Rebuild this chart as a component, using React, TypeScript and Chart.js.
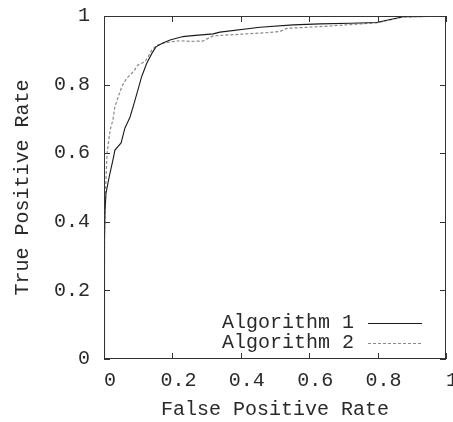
import React, { useEffect, useRef } from "react";
import { Chart, registerables } from "chart.js";

Chart.register(...registerables);

const seriesLabels = ["Algorithm 1", "Algorithm 2"];

const alg1Fpr = [0, 0.001, 0.002, 0.003, 0.006, 0.015, 0.026, 0.032, 0.05, 0.061, 0.076, 0.088, 0.099, 0.11, 0.125, 0.14, 0.152, 0.169, 0.193, 0.231, 0.251, 0.319, 0.339, 0.456, 0.553, 0.632, 0.72, 0.797, 0.874, 0.95, 1];
const alg1Tpr = [0, 0.2, 0.35, 0.434, 0.484, 0.53, 0.58, 0.609, 0.63, 0.673, 0.705, 0.745, 0.784, 0.823, 0.862, 0.891, 0.91, 0.92, 0.93, 0.94, 0.942, 0.948, 0.953, 0.967, 0.974, 0.977, 0.979, 0.981, 0.998, 0.999, 1];

const alg2Fpr = [0, 0.001, 0.002, 0.003, 0.006, 0.009, 0.013, 0.018, 0.026, 0.032, 0.042, 0.052, 0.066, 0.086, 0.099, 0.12, 0.129, 0.14, 0.155, 0.184, 0.222, 0.251, 0.289, 0.319, 0.417, 0.485, 0.515, 0.534, 0.632, 0.72, 0.797, 0.874, 0.95, 1];
const alg2Tpr = [0, 0.25, 0.4, 0.455, 0.53, 0.6, 0.63, 0.668, 0.697, 0.736, 0.765, 0.794, 0.818, 0.838, 0.857, 0.867, 0.881, 0.901, 0.915, 0.923, 0.928, 0.926, 0.927, 0.942, 0.948, 0.952, 0.955, 0.964, 0.969, 0.975, 0.98, 0.997, 0.999, 1];

const xTickLabels = ["0", "0.2", "0.4", "0.6", "0.8", "1"];
const yTickLabels = ["0", "0.2", "0.4", "0.6", "0.8", "1"];
const tickValues = [0, 0.2, 0.4, 0.6, 0.8, 1];

const FONT = "'Liberation Mono', 'DejaVu Sans Mono', monospace";
const TEXT = "#2a2a2a";

const framePlugin = {
  id: "gnuFrame",
  afterDatasetsDraw(chart: any) {
    const { ctx, chartArea: a, scales } = chart;
    ctx.save();
    ctx.strokeStyle = "#333";
    ctx.lineWidth = 1;
    ctx.strokeRect(a.left + 0.5, a.top + 0.5, a.right - a.left - 1, a.bottom - a.top - 1);
    const L = 6;
    ctx.beginPath();
    for (const v of tickValues) {
      const px = Math.round(scales.x.getPixelForValue(v)) + 0.5;
      ctx.moveTo(px, a.bottom);
      ctx.lineTo(px, a.bottom - L);
      ctx.moveTo(px, a.top);
      ctx.lineTo(px, a.top + L);
      const py = Math.round(scales.y.getPixelForValue(v)) + 0.5;
      ctx.moveTo(a.left, py);
      ctx.lineTo(a.left + L, py);
      ctx.moveTo(a.right, py);
      ctx.lineTo(a.right - L, py);
    }
    ctx.stroke();

    // legend (gnuplot style: text right-aligned, sample to the right)
    ctx.font = `20px ${FONT}`;
    ctx.textAlign = "right";
    ctx.textBaseline = "middle";
    const textRight = a.right - 92;
    const sampleL = a.right - 78;
    const sampleR = a.right - 24;
    const rows = [a.bottom - 36, a.bottom - 16];
    chart.data.datasets.forEach((ds: any, i: number) => {
      const y = rows[i];
      ctx.fillStyle = TEXT;
      ctx.fillText(ds.label, textRight, y);
      ctx.beginPath();
      ctx.strokeStyle = ds.borderColor;
      ctx.lineWidth = ds.borderWidth;
      ctx.setLineDash(ds.borderDash || []);
      ctx.moveTo(sampleL, y + 0.5);
      ctx.lineTo(sampleR, y + 0.5);
      ctx.stroke();
      ctx.setLineDash([]);
    });
    ctx.restore();
  },
};

const zeroPad = (s: any) => {
  s.paddingTop = 0;
  s.paddingBottom = 0;
  s.paddingLeft = 0;
  s.paddingRight = 0;
};

export default function App() {
  const ref = useRef<HTMLCanvasElement | null>(null);
  useEffect(() => {
    if (!ref.current) return;
    const chart = new Chart(ref.current, {
      type: "scatter",
      data: {
        datasets: [
          {
            label: seriesLabels[0],
            data: alg1Fpr.map((x, i) => ({ x, y: alg1Tpr[i] })),
            showLine: true,
            borderColor: "#1a1a1a",
            borderWidth: 1.1,
            pointRadius: 0,
            tension: 0,
          },
          {
            label: seriesLabels[1],
            data: alg2Fpr.map((x, i) => ({ x, y: alg2Tpr[i] })),
            showLine: true,
            borderColor: "#8a8a8a",
            borderWidth: 1.2,
            borderDash: [3, 2],
            pointRadius: 0,
            tension: 0,
          },
        ],
      },
      options: {
        animation: false,
        responsive: false,
        layout: { padding: { top: 16, right: 7, left: 0, bottom: 0 } },
        plugins: { legend: { display: false }, tooltip: { enabled: false } },
        scales: {
          x: {
            type: "linear",
            min: 0,
            max: 1,
            grid: { display: false, drawTicks: false },
            border: { display: false },
            afterFit: (s: any) => {
              s.height = 63;
              zeroPad(s);
            },
            afterBuildTicks: (s: any) => {
              s.ticks = tickValues.map((v) => ({ value: v }));
            },
            ticks: {
              autoSkip: false,
              maxRotation: 0,
              padding: 10,
              labelOffset: 6,
              color: TEXT,
              font: { family: FONT, size: 20 },
              callback: (_v: any, i: number) => xTickLabels[i],
            },
            title: {
              display: true,
              text: "False Positive Rate",
              color: TEXT,
              font: { family: FONT, size: 20 },
              padding: { top: 0, bottom: 0 },
            },
          },
          y: {
            type: "linear",
            min: 0,
            max: 1,
            grid: { display: false, drawTicks: false },
            border: { display: false },
            afterFit: (s: any) => {
              s.width = 104;
              zeroPad(s);
            },
            afterBuildTicks: (s: any) => {
              s.ticks = tickValues.map((v) => ({ value: v }));
            },
            ticks: {
              autoSkip: false,
              padding: 14,
              color: TEXT,
              font: { family: FONT, size: 20 },
              callback: (_v: any, i: number) => yTickLabels[i],
            },
            title: {
              display: true,
              text: "True Positive Rate",
              color: TEXT,
              font: { family: FONT, size: 20 },
              padding: { top: 11, bottom: 0 },
            },
          },
        },
      },
      plugins: [framePlugin],
    });
    return () => chart.destroy();
  }, []);
  return (
    <div style={{ position: "fixed", left: 0, top: 0, width: 453, height: 422, background: "#fff" }}>
      <canvas ref={ref} width={453} height={422} style={{ display: "block" }} />
    </div>
  );
}
